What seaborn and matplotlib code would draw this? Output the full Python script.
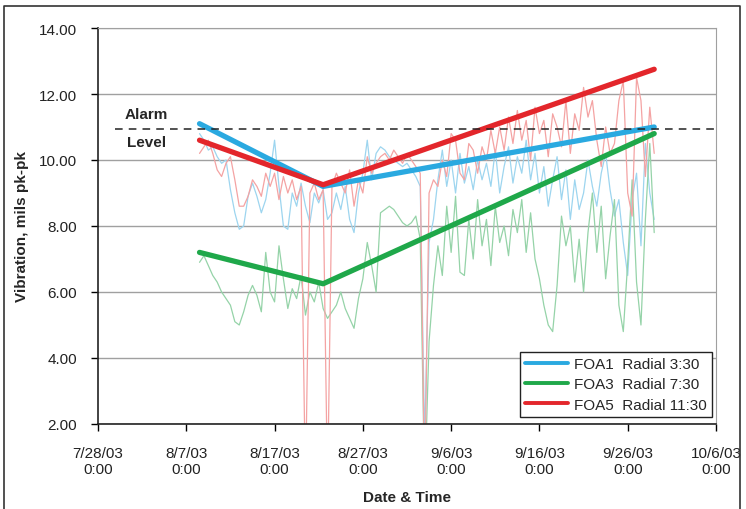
import numpy as np
import pandas as pd
import seaborn as sns
import matplotlib.pyplot as plt
from matplotlib.lines import Line2D

# raw readings, every 12 h from 8/8/03 12:00
foa1_raw = [10.8, 10.6, 10.3, 10.4, 10.1, 9.9, 10.0, 9.1, 8.4, 7.9,
            8.0, 8.9, 9.3, 8.9, 8.4, 8.8, 9.6, 10.6, 9.2, 8.0,
            7.9, 9.0, 8.6, 9.3, 8.6, 8.1, 9.0, 8.7, 9.1, 8.2,
            8.4, 9.0, 8.5, 9.2, 8.2, 7.8, 9.0, 9.6, 10.6, 9.4,
            10.2, 10.4, 10.3, 10.1, 10.0, 9.9, 9.8, 9.9, 9.7, 9.5,
            9.2, 1.5, 7.5, 8.2, 9.4, 10.3, 9.2, 10.0, 9.0, 10.2,
            9.3, 9.8, 9.1, 10.0, 9.4, 9.9, 9.2, 10.3, 9.0, 9.8,
            10.4, 9.3, 10.1, 9.6, 10.6, 9.4, 10.2, 9.0, 9.8, 8.6,
            9.4, 10.1, 8.8, 9.7, 8.2, 9.4, 8.5, 9.0, 10.0, 9.2,
            8.6, 9.6, 10.2, 9.1, 8.3, 8.8, 7.5, 6.5, 8.8, 9.6,
            7.4, 10.5, 9.0, 8.2]
foa3_raw = [6.9, 7.1, 6.8, 6.5, 6.3, 6.0, 5.8, 5.6, 5.1, 5.0,
            5.4, 5.9, 6.2, 5.9, 5.4, 7.2, 6.0, 5.7, 7.4, 6.4,
            5.5, 6.1, 5.8, 6.5, 5.3, 6.0, 5.7, 6.3, 5.5, 5.2,
            5.4, 5.6, 6.0, 5.5, 5.2, 4.9, 5.8, 6.4, 7.5, 6.8,
            6.0, 8.4, 8.5, 8.6, 8.5, 8.3, 8.1, 8.0, 8.1, 8.3,
            7.6, 0.0, 4.5, 6.2, 7.4, 6.5, 8.6, 7.2, 8.9, 6.6,
            6.5, 8.2, 7.0, 8.8, 7.4, 8.2, 6.8, 8.6, 7.5, 8.0,
            7.1, 8.5, 7.8, 8.8, 7.2, 8.4, 7.0, 6.4, 5.6, 5.0,
            4.8, 6.2, 8.3, 7.4, 8.0, 6.3, 7.6, 6.0, 7.8, 9.0,
            7.2, 8.6, 6.4, 7.7, 8.8, 5.6, 4.8, 6.9, 9.4, 6.3,
            5.0, 8.2, 10.5, 7.8]
foa5_raw = [10.2, 10.4, 10.6, 10.2, 9.7, 9.5, 9.9, 10.1, 9.4, 8.6,
            8.6, 8.9, 9.4, 9.2, 8.9, 9.6, 9.2, 9.6, 8.8, 9.5,
            9.0, 9.4, 8.8, 9.2, 0.0, 9.0, 9.3, 8.8, 9.1, 0.0,
            9.2, 9.6, 9.3, 9.0, 9.7, 8.6, 9.4, 9.0, 10.1, 9.6,
            9.9, 10.1, 10.2, 10.0, 10.3, 10.1, 9.9, 10.2, 10.0, 9.8,
            9.6, 0.0, 9.0, 9.4, 9.2, 10.0, 9.5, 10.8, 10.6, 9.6,
            9.4, 10.5, 10.3, 9.6, 10.4, 10.0, 10.9, 10.2, 11.0, 10.3,
            11.3, 10.5, 11.5, 10.6, 11.2, 10.0, 11.6, 10.8, 11.2, 10.1,
            11.4, 11.0, 10.4, 11.8, 10.2, 11.4, 10.9, 12.2, 11.3, 11.8,
            10.6, 9.8, 11.0, 10.2, 10.5, 11.8, 12.4, 9.0, 8.3, 12.5,
            11.8, 9.5, 11.6, 10.2]

# trend lines (start, minimum, end)
trend_dates = pd.to_datetime(["2003-08-08 12:00", "2003-08-22 12:00", "2003-09-29 00:00"])
foa1_trend = [11.1, 9.2, 11.0]
foa3_trend = [7.2, 6.25, 10.8]
foa5_trend = [10.6, 9.25, 12.75]

ALARM_LEVEL = 10.95

tick_dates = pd.to_datetime(["2003-07-28", "2003-08-07", "2003-08-17", "2003-08-27",
                             "2003-09-06", "2003-09-16", "2003-09-26", "2003-10-06"])
tick_labels = ["7/28/03\n0:00", "8/7/03\n0:00", "8/17/03\n0:00", "8/27/03\n0:00",
               "9/6/03\n0:00", "9/16/03\n0:00", "9/26/03\n0:00", "10/6/03\n0:00"]
y_ticks = [2, 4, 6, 8, 10, 12, 14]

names = ["FOA1  Radial 3:30", "FOA3  Radial 7:30", "FOA5  Radial 11:30"]
colors = ["#2aa9e0", "#1fa84a", "#e3262b"]
light = ["#9dd5ef", "#95d3a8", "#f4a3a3"]

sns.set_style("white")
plt.rcParams['font.family'] = ['Liberation Sans', 'DejaVu Sans']

fig = plt.figure(figsize=(7.46, 5.10), dpi=100)
ax = fig.add_axes([98 / 746, 85 / 510, 618 / 746, 396 / 510])

for raw, c in zip([foa1_raw, foa3_raw, foa5_raw], light):
    t = pd.date_range("2003-08-08 12:00", periods=len(raw), freq="12h")
    sns.lineplot(x=t, y=raw, ax=ax, color=c, lw=0.9, sort=False, legend=False, zorder=2)

handles = []
for tr, c, n in zip([foa1_trend, foa3_trend, foa5_trend], colors, names):
    sns.lineplot(x=trend_dates, y=tr, ax=ax, color=c, lw=3.8, legend=False, zorder=4)
    handles.append(Line2D([], [], color=c, lw=2.8, label=n))

ax.axhline(ALARM_LEVEL, xmin=17 / 618, xmax=1, color="#222222", lw=1.1,
           ls=(0, (5, 4)), zorder=5)
ax.text(pd.Timestamp("2003-08-02 12:00"), 11.4, "Alarm", ha="center", va="center",
        fontsize=11, fontweight="bold")
ax.text(pd.Timestamp("2003-08-02 12:00"), 10.55, "Level", ha="center", va="center",
        fontsize=11, fontweight="bold")

ax.set_xlim(tick_dates[0], tick_dates[-1])
ax.set_ylim(2, 14)
ax.set_xticks(tick_dates)
ax.set_xticklabels(tick_labels)
ax.set_yticks(y_ticks)
ax.set_yticklabels([f"{v:.2f}" for v in y_ticks])
ax.yaxis.grid(True, color="#a0a0a0", lw=1)
ax.xaxis.grid(False)
ax.set_axisbelow(True)
ax.tick_params(axis="both", which="major", direction="out", length=5, width=1,
               color="black", labelsize=11, labelcolor="#222222", left=True, bottom=True)
ax.tick_params(axis="x", pad=11, labelsize=11)
ax.tick_params(axis="y", pad=10)

for s in ["left", "bottom"]:
    ax.spines[s].set_color("#222222")
    ax.spines[s].set_linewidth(1.2)
ax.spines["right"].set_color("#a0a0a0")
ax.spines["top"].set_color("#a0a0a0")

ax.set_ylabel("Vibration, mils pk-pk", fontsize=11, fontweight="bold")
ax.yaxis.set_label_coords(-0.112, 0.5)
ax.set_xlabel("Date & Time", fontsize=11, fontweight="bold")
ax.xaxis.set_label_coords(0.5, -0.167)

leg = ax.legend(handles=handles, loc="lower right", bbox_to_anchor=(0.9935, 0.018),
                borderaxespad=0, fancybox=False, framealpha=1, edgecolor="#222222",
                fontsize=11, handlelength=2.8, handletextpad=0.4, labelspacing=0.4,
                borderpad=0.35)
leg.get_frame().set_linewidth(1.0)

# outer chart border
fig.add_artist(Line2D([4 / 746, 4 / 746, 740 / 746, 740 / 746],
                      [0, 503 / 510, 503 / 510, 0], transform=fig.transFigure,
                      color="#333333", lw=1.2))

fig.savefig("out.png", dpi=100)
